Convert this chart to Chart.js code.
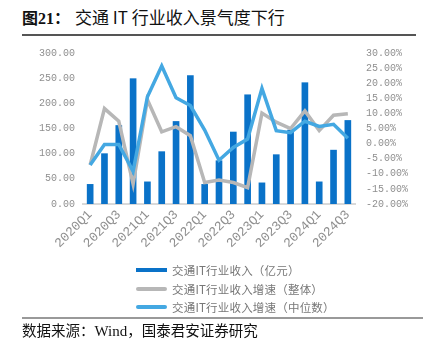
<!DOCTYPE html>
<html>
<head>
<meta charset="utf-8">
<script src="https://cdn.jsdelivr.net/npm/chart.js@4/dist/chart.umd.min.js"></script>
<style>
    html, body { margin: 0; padding: 0; background: #fff; }
    #page { position: relative; width: 432px; height: 345px; overflow: hidden; font-family: "Noto Sans CJK SC", sans-serif; }
    #title { position: absolute; left: 22px; top: 5px; font-size: 16px; color: #111; white-space: nowrap; }
    #title b { font-family: "Liberation Serif", "Noto Sans CJK SC", serif; font-weight: bold; font-size: 16px; }
    #title .txt { position: absolute; left: 53px; top: -1px; font-size: 17px; }
    #titleLine { position: absolute; left: 22px; top: 34px; width: 394px; height: 1.5px; background: #555; }
    #chartBox { position: absolute; left: 0; top: 36px; }
    #legend { position: absolute; left: 136px; top: 261px; font-size: 11.5px; color: #777; letter-spacing: 0.2px; }
    .item { height: 18.5px; display: flex; align-items: center; white-space: nowrap; }
    .swatch { width: 31px; height: 4px; margin-right: 5px; border-radius: 2px; }
    #footLine { position: absolute; left: 22px; top: 317px; width: 401px; height: 1.5px; background: #999; }
    #source { position: absolute; left: 22px; top: 319px; font-size: 14.5px; color: #111; white-space: nowrap; }
    #source span { font-family: "Liberation Serif", serif; font-size: 15px; }
</style>
</head>
<body>
<div id="page">
    <div id="title"><b>图21：</b><span class="txt">交通 IT 行业收入景气度下行</span></div>
    <div id="titleLine"></div>
    <div id="chartBox"><canvas id="itChart" width="432" height="226"></canvas></div>
    <div id="legend"></div>
    <div id="footLine"></div>
    <div id="source">数据来源：<span>Wind</span>，国泰君安证券研究</div>
</div>
<script>
const quarters = [
    '2020Q1', '2020Q2', '2020Q3', '2020Q4',
    '2021Q1', '2021Q2', '2021Q3', '2021Q4',
    '2022Q1', '2022Q2', '2022Q3', '2022Q4',
    '2023Q1', '2023Q2', '2023Q3', '2023Q4',
    '2024Q1', '2024Q2', '2024Q3'
];
// 收入（亿元）
const revenue = [39, 100, 156, 249, 44, 104, 164, 255, 39, 86, 143, 217, 42, 98, 147, 241, 44, 107, 166];
// 收入增速（整体，%）
const growthTotal = [-7.1, 11.6, 7.4, -13.4, 14.5, 3.9, 5.6, 2.6, -12.9, -12.1, -12.9, -14.6, 10.1, 7.1, 5.0, 10.8, 4.3, 9.4, 9.9];
// 收入增速（中位数，%）
const growthMedian = [-7.1, -0.3, -0.3, -9.2, 15.5, 25.7, 15.2, 12.6, 4.5, -5.5, -1.3, 1.5, 18.3, 4.3, 3.6, 7.4, 5.7, 6.4, 1.8];

const leftTicks = { min: 0, max: 300, step: 50 };
const rightTicks = { min: -20, max: 30, step: 5 };

const tickFont = { family: 'Liberation Mono', size: 10 };
const tickColor = '#8f8f8f';

const chart = new Chart(document.getElementById('itChart').getContext('2d'), {
    type: 'bar',
    data: {
        labels: quarters,
        datasets: [
            {
                type: 'line',
                label: '交通IT行业收入增速（中位数）',
                data: growthMedian,
                yAxisID: 'y1',
                borderColor: '#44a8e2',
                backgroundColor: '#44a8e2',
                borderWidth: 3.5,
                pointRadius: 0,
                tension: 0,
                order: 1
            },
            {
                type: 'line',
                label: '交通IT行业收入增速（整体）',
                data: growthTotal,
                yAxisID: 'y1',
                borderColor: '#b7b7b7',
                backgroundColor: '#b7b7b7',
                borderWidth: 3.5,
                pointRadius: 0,
                tension: 0,
                order: 2
            },
            {
                label: '交通IT行业收入（亿元）',
                data: revenue,
                yAxisID: 'y',
                backgroundColor: '#0a72c8',
                barThickness: 6,
                order: 3
            }
        ]
    },
    options: {
        responsive: false,
        animation: false,
        layout: { padding: { top: 10, left: 0, right: 0, bottom: 0 } },
        plugins: {
            legend: { display: false },
            tooltip: { enabled: false }
        },
        scales: {
            x: {
                grid: { display: false, drawTicks: false },
                border: { display: true, color: '#d9d9d9', width: 2 },
                ticks: {
                    autoSkip: false,
                    maxRotation: 45,
                    minRotation: 45,
                    padding: 3,
                    color: tickColor,
                    font: { family: 'Liberation Mono', size: 13 },
                    callback: function(value, index) {
                        return index % 2 === 0 ? quarters[index] : '';
                    }
                },
                afterFit: function(scale) { scale.height = 58; }
            },
            y: {
                position: 'left',
                min: leftTicks.min,
                max: leftTicks.max,
                grid: { display: false, drawTicks: false },
                border: { display: false },
                ticks: {
                    stepSize: leftTicks.step,
                    padding: 8,
                    color: tickColor,
                    font: tickFont,
                    callback: function(v) { return v.toFixed(2); }
                },
                afterFit: function(scale) { scale.width = 83; }
            },
            y1: {
                position: 'right',
                min: rightTicks.min,
                max: rightTicks.max,
                grid: { display: false, drawTicks: false },
                border: { display: false },
                ticks: {
                    stepSize: rightTicks.step,
                    padding: 11,
                    color: tickColor,
                    font: tickFont,
                    callback: function(v) { return v.toFixed(2) + '%'; }
                },
                afterFit: function(scale) { scale.width = 77; }
            }
        }
    }
});

// 图例：柱在前，整体、中位数在后
const legendBox = document.getElementById('legend');
[2, 1, 0].forEach(function(i) {
    const ds = chart.data.datasets[i];
    const row = document.createElement('div');
    row.className = 'item';
    const sw = document.createElement('div');
    sw.className = 'swatch';
    sw.style.background = ds.type === 'line' ? ds.borderColor : ds.backgroundColor;
    if (ds.type !== 'line') sw.style.borderRadius = '0';
    row.appendChild(sw);
    row.appendChild(document.createTextNode(ds.label));
    legendBox.appendChild(row);
});
</script>
</body>
</html>
